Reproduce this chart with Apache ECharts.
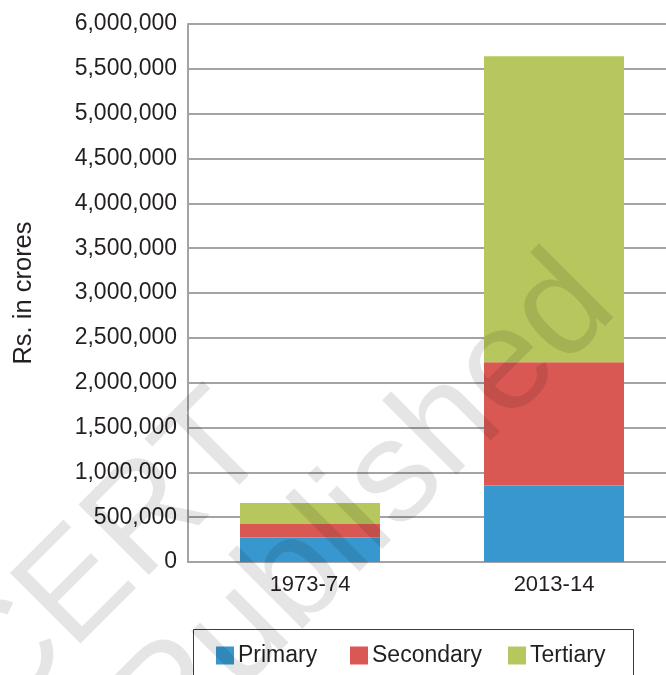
<!DOCTYPE html>
<html>
<head>
<meta charset="utf-8">
<script src="https://cdn.jsdelivr.net/npm/echarts@6/dist/echarts.min.js"></script>
<style>
html,body{margin:0;padding:0;background:#fff;}
#chart{width:666px;height:675px;}
</style>
</head>
<body>
<div id="chart"></div>
<script>
const categories = ['1973-74', '2013-14'];
const primary = [274000, 853000];
const secondary = [149000, 1374000];
const tertiary = [234000, 3414000];
const seriesNames = ['Primary', 'Secondary', 'Tertiary'];
const yAxisTitle = 'Rs. in crores';

const FONT = '"Liberation Sans", Arial, Helvetica, sans-serif';
const TEXT = '#231f20';
const GRID = '#a3a3a7';

function legendFor(name, left) {
  return {
    data: [name],
    left: left, top: 644,
    icon: 'rect',
    itemWidth: 18, itemHeight: 18,
    padding: 0,
    textStyle: {fontSize: 23, color: TEXT, fontFamily: FONT, padding: [0, 0, 0, -1]}
  };
}

const chart = echarts.init(document.getElementById('chart'), null, {renderer: 'canvas'});
chart.setOption({
  animation: false,
  backgroundColor: '#ffffff',
  textStyle: {fontFamily: FONT},
  grid: {left: 188, right: -10, top: 24, bottom: 113, containLabel: false, outerBoundsMode: 'none'},
  legend: [
    legendFor(seriesNames[0], 216),
    legendFor(seriesNames[1], 350),
    legendFor(seriesNames[2], 508)
  ],
  xAxis: {
    type: 'category',
    data: categories,
    axisLine: {show: true, lineStyle: {color: GRID, width: 2}},
    axisTick: {show: false},
    axisLabel: {fontSize: 22, color: TEXT, margin: 12, fontFamily: FONT},
    splitLine: {show: false}
  },
  yAxis: {
    type: 'value',
    min: 0, max: 6000000, interval: 500000,
    name: yAxisTitle,
    nameLocation: 'middle',
    nameRotate: 90,
    nameGap: 151,
    nameTextStyle: {fontSize: 25.5, color: TEXT, fontFamily: FONT},
    axisLine: {show: true, lineStyle: {color: GRID, width: 2}},
    axisTick: {show: false},
    axisLabel: {
      fontSize: 23, color: TEXT, margin: 11, fontFamily: FONT,
      formatter: v => v.toLocaleString('en-US')
    },
    splitLine: {show: true, lineStyle: {color: GRID, width: 2}}
  },
  series: [
    {name: seriesNames[0], type: 'bar', stack: 'total', data: primary, barWidth: 140, itemStyle: {color: '#3897ce'}},
    {name: seriesNames[1], type: 'bar', stack: 'total', data: secondary, barWidth: 140, itemStyle: {color: '#da5853'}},
    {name: seriesNames[2], type: 'bar', stack: 'total', data: tertiary, barWidth: 140, itemStyle: {color: '#b8c75d'}}
  ],
  graphic: [
    {type: 'rect', z: 50, silent: true,
     shape: {x: 193.5, y: 629.5, width: 440, height: 80},
     style: {fill: 'none', stroke: '#3c3c3c', lineWidth: 1}},
    {type: 'text', x: 21, y: 749, rotation: Math.PI / 4, z: 100, silent: true,
     style: {text: 'CERT', fontSize: 145, fontFamily: FONT, fill: 'rgba(0,0,0,0.1)', verticalAlign: 'bottom'}},
    {type: 'text', x: 193, y: 784, rotation: Math.PI / 4, z: 100, silent: true,
     style: {text: 'Published', fontSize: 145, fontFamily: FONT, fill: 'rgba(0,0,0,0.1)', verticalAlign: 'bottom'}}
  ]
});
</script>
</body>
</html>
